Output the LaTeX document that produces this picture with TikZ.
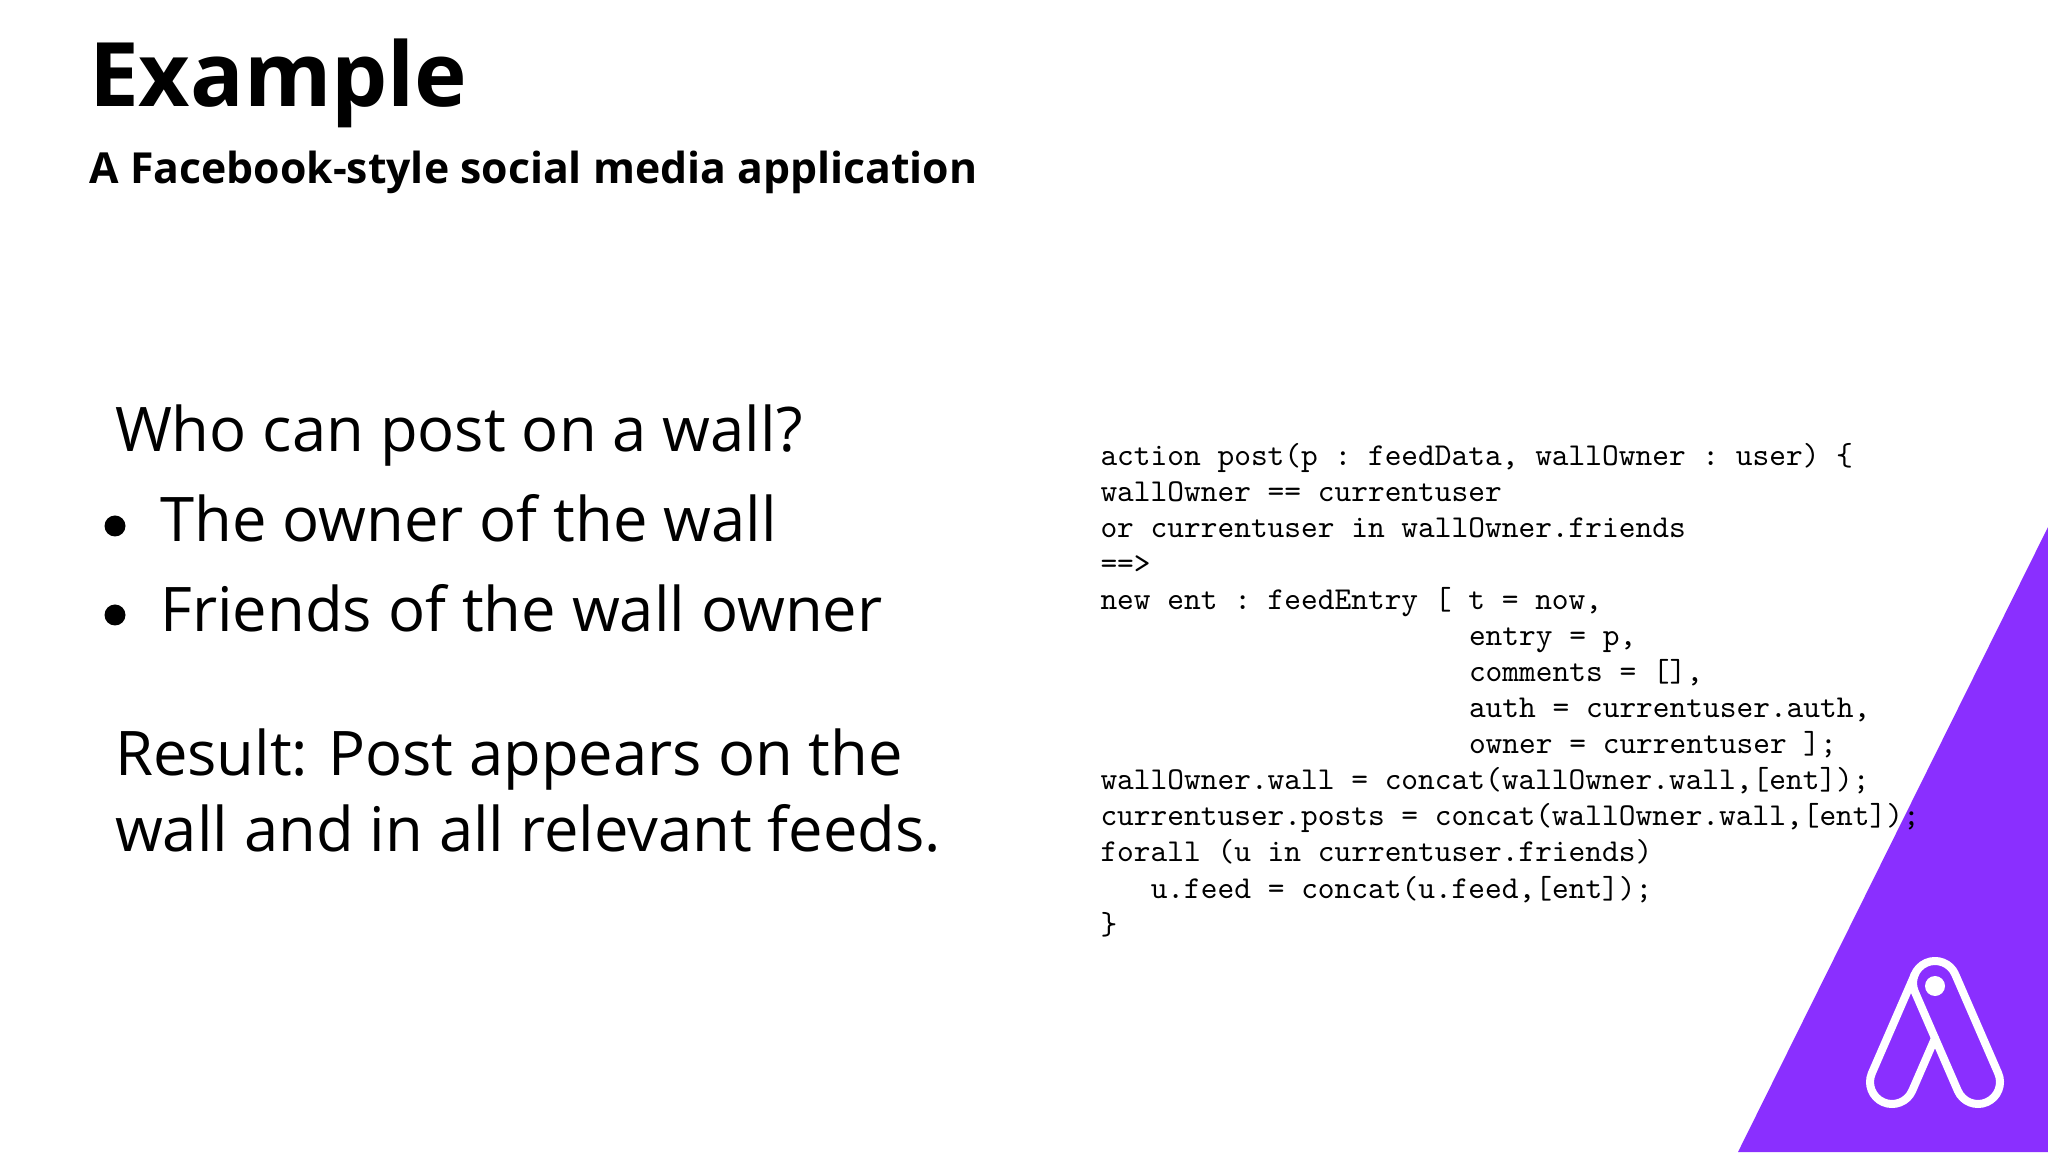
\documentclass[tikz,border=0pt]{standalone}
\usepackage{fontspec}
\setmainfont{Open Sans}
\setmonofont{Latin Modern Mono}[OpticalSize=10]
\frenchspacing
\definecolor{brandpurple}{RGB}{138,47,255}
\tikzset{
  x=1pt,y=1pt,
  label text/.style={anchor=base west,inner sep=0pt,outer sep=0pt,text=black},
  title text/.style={label text,font=\fontsize{89}{89}\selectfont\bfseries},
  subtitle text/.style={label text,font=\fontsize{42.75}{43}\selectfont\bfseries},
  body text/.style={label text,font=\fontsize{61.5}{62}\selectfont},
  code text/.style={label text,font=\fontsize{31.85}{36}\selectfont\ttfamily\frenchspacing},
  bullet dot/.style={fill=black,draw=none},
  logo line/.style={draw=white,line width=8pt,line join=round,line cap=round},
}
\begin{document}
\begin{tikzpicture}
\useasboundingbox (0,0) rectangle (2048,1152);
\fill[white] (0,0) rectangle (2048,1152);
% corner triangle
\fill[brandpurple] (1738,0) -- (2048,625) -- (2048,0) -- cycle;
% logo
\draw[logo line] (1955.17,177.76) -- (1998.17,78.76) arc[start angle=23.5,end angle=-156.5,radius=22]
  -- (1914.83,160.24) arc[start angle=203.5,end angle=23.5,radius=22] -- cycle;
\draw[logo line] (1914.83,177.76) -- (1871.83,78.76) arc[start angle=156.5,end angle=336.5,radius=22] -- (1935,113.8);
\fill[white] (1935,166) circle[radius=10];
% heading
\node[title text] (title) at (89,1045) {Example};
\node[subtitle text] (subtitle) at (89.5,968) {A Facebook-style social media application};
% left column
\node[body text] (who) at (115,700) {Who can post on a wall?};
\fill[bullet dot] (115,626) circle[radius=10.5];
\node[body text] (owner) at (160.5,610) {The owner of the wall};
\fill[bullet dot] (115,537) circle[radius=10.5];
\node[body text] (friends) at (160.5,520) {Friends of the wall owner};
\node[body text] (result) at (115,376) {Result:\kern4pt{} Post appears on the};
\node[body text] (relevant) at (115,300) {wall and in all relevant feeds.};
% code
\node[code text] (c1) at (1100.5,686) {action post(p : feedData, wallOwner : user) \{};
\node[code text] (c2) at (1100.5,650) {wallOwner == currentuser};
\node[code text] (c3) at (1100.5,614) {or currentuser in wallOwner.friends};
\node[code text] (c4) at (1100.5,578) {==>};
\node[code text] (c5) at (1100.5,542) {new ent : feedEntry [ t = now,};
\node[code text] (c6) at (1469,506) {entry = p,};
\node[code text] (c7) at (1469,470) {comments = [],};
\node[code text] (c8) at (1469,434) {auth = currentuser.auth,};
\node[code text] (c9) at (1469,398) {owner = currentuser ];};
\node[code text] (c10) at (1100.5,362) {wallOwner.wall = concat(wallOwner.wall,[ent]);};
\node[code text] (c11) at (1100.5,326) {currentuser.posts = concat(wallOwner.wall,[ent]);};
\node[code text] (c12) at (1100.5,290) {forall (u in currentuser.friends)};
\node[code text] (c13) at (1150.75,254) {u.feed = concat(u.feed,[ent]);};
\node[code text] (c14) at (1100.5,218) {\}};
\end{tikzpicture}
\end{document}
